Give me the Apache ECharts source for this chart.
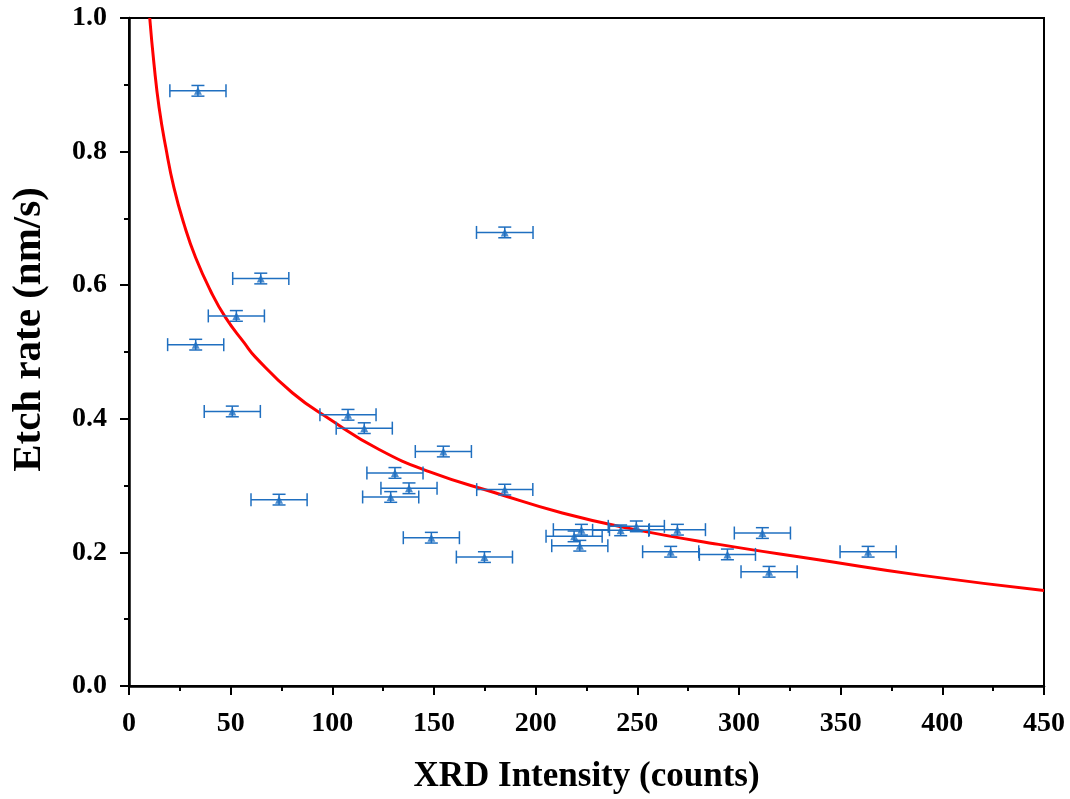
<!DOCTYPE html>
<html>
<head>
<meta charset="utf-8">
<script src="https://cdn.jsdelivr.net/npm/echarts@6/dist/echarts.min.js"></script>
<style>
  html, body { margin: 0; padding: 0; background: #fff; }
  #chart { width: 1070px; height: 799px; }
</style>
</head>
<body>
<div id="chart"></div>
<script>
// measured points (XRD intensity, etch rate)
const xrd = [33.9, 184.8, 64.8, 52.8, 32.8, 50.8, 107.7, 115.7, 154.6, 130.8, 137.7, 128.7, 73.8, 184.8,
  148.7, 174.8, 222.5, 218.9, 221.7, 241.8, 249.5, 269.7, 266.4, 294.3, 311.5, 314.8, 363.5]
const etch = [0.891, 0.679, 0.610, 0.554, 0.511, 0.411, 0.406, 0.386, 0.351, 0.319, 0.296, 0.283, 0.279, 0.294,
  0.222, 0.193, 0.234, 0.224, 0.210, 0.233, 0.239, 0.234, 0.201, 0.197, 0.229, 0.171, 0.201]
// error bars
const xErr = [13.8, 13.9, 13.8, 13.8, 13.8, 13.8, 13.8, 13.8, 13.8, 13.8, 13.8, 13.8, 13.8, 13.8,
  13.8, 13.8, 13.8, 13.8, 13.8, 13.8, 13.8, 13.8, 13.8, 13.8, 13.8, 13.8, 13.8]
const yErr = [0.008, 0.008, 0.008, 0.008, 0.008, 0.008, 0.008, 0.008, 0.008, 0.008, 0.008, 0.008, 0.008, 0.008,
  0.008, 0.008, 0.008, 0.008, 0.008, 0.008, 0.008, 0.008, 0.008, 0.008, 0.008, 0.008, 0.008]

// fitted curve
const fitX = [10.2, 12.3, 14.8, 18.1, 22.1, 27.1, 32.8, 40.2, 47.6, 56.6, 62.3, 80.3, 98.4, 123, 147.6,
  180.4, 213.1, 246, 290, 339, 389, 450]
const fitY = [1.0, 0.931, 0.866, 0.806, 0.746, 0.691, 0.641, 0.591, 0.551, 0.514, 0.492, 0.439, 0.400, 0.354, 0.321,
  0.289, 0.259, 0.236, 0.212, 0.189, 0.166, 0.143]

const blue = '#1f6fc0'
const fontFam = '"Liberation Serif", "Times New Roman", serif'

const chart = echarts.init(document.getElementById('chart'))

// error bar drawing
const renderErr = (params, api) => {
  const x = api.value(0), y = api.value(1), ex = api.value(2), ey = api.value(3)
  const l = api.coord([x - ex, y]), r = api.coord([x + ex, y])
  const t = api.coord([x, y + ey]), b = api.coord([x, y - ey])
  const cap = 6.5
  const st = { stroke: blue, lineWidth: 1.5 }
  return {
    type: 'group',
    children: [
      { type: 'line', shape: { x1: l[0], y1: l[1], x2: r[0], y2: r[1] }, style: st },
      { type: 'line', shape: { x1: l[0], y1: l[1] - cap, x2: l[0], y2: l[1] + cap }, style: st },
      { type: 'line', shape: { x1: r[0], y1: r[1] - cap, x2: r[0], y2: r[1] + cap }, style: st },
      { type: 'line', shape: { x1: t[0], y1: t[1], x2: b[0], y2: b[1] }, style: st },
      { type: 'line', shape: { x1: t[0] - cap, y1: t[1], x2: t[0] + cap, y2: t[1] }, style: st },
      { type: 'line', shape: { x1: b[0] - cap, y1: b[1], x2: b[0] + cap, y2: b[1] }, style: st }
    ]
  }
}

const option = {
  animation: false,
  grid: {
    left: 129, right: 26, top: 18, bottom: 113,
    show: true, borderColor: '#000', borderWidth: 2
  },
  xAxis: {
    type: 'value',
    min: 0, max: 450, interval: 50,
    name: 'XRD Intensity (counts)',
    nameLocation: 'middle',
    nameGap: 73,
    nameTextStyle: { fontFamily: fontFam, fontWeight: 'bold', fontSize: 35, color: '#000' },
    axisLine: { show: true, lineStyle: { color: '#000', width: 2.5 } },
    axisTick: { show: true, inside: false, length: 9, lineStyle: { color: '#000', width: 2 } },
    minorTick: { show: true, splitNumber: 2, length: 5, lineStyle: { color: '#000', width: 2 } },
    axisLabel: { fontFamily: fontFam, fontWeight: 'bold', fontSize: 28, color: '#000', margin: 24 },
    splitLine: { show: false }
  },
  yAxis: {
    type: 'value',
    min: 0, max: 1, interval: 0.2,
    name: 'Etch rate (nm/s)',
    nameLocation: 'middle',
    nameGap: 79,
    nameTextStyle: {
      fontFamily: fontFam, fontWeight: 'bold', fontSize: 41, color: '#000',
      padding: [0, 0, 0, 45]
    },
    axisLine: { show: true, lineStyle: { color: '#000', width: 2.5 } },
    axisTick: { show: true, inside: false, length: 9, lineStyle: { color: '#000', width: 2 } },
    minorTick: { show: true, splitNumber: 2, length: 5, lineStyle: { color: '#000', width: 2 } },
    axisLabel: {
      fontFamily: fontFam, fontWeight: 'bold', fontSize: 28, color: '#000', margin: 22,
      formatter: v => v.toFixed(1)
    },
    splitLine: { show: false }
  },
  series: [
    {
      name: 'fit',
      type: 'line',
      data: fitX.map((x, i) => [x, fitY[i]]),
      smooth: 0.5,
      symbol: 'none',
      lineStyle: { color: '#ff0000', width: 3 },
      z: 3
    },
    {
      name: 'err',
      type: 'custom',
      renderItem: renderErr,
      data: xrd.map((x, i) => [x, etch[i], xErr[i], yErr[i]]),
      z: 4
    },
    {
      name: 'data',
      type: 'scatter',
      symbol: 'triangle',
      symbolSize: 8,
      itemStyle: { color: blue },
      data: xrd.map((x, i) => [x, etch[i]]),
      z: 5
    }
  ]
}

chart.setOption(option)
</script>
</body>
</html>
